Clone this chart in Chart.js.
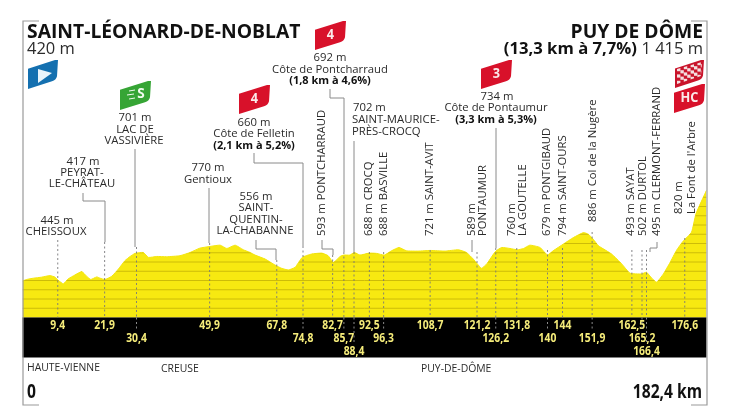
<!DOCTYPE html>
<html>
<head>
<meta charset="utf-8">
<title>Puy de Dôme</title>
<style>
  html, body { margin: 0; padding: 0; background: #fff; }
  #wrap { position: relative; width: 735px; height: 413px; }
  canvas { display: block; }
</style>
<script src="https://cdn.jsdelivr.net/npm/chart.js@4"></script>
</head>
<body>
<div id="wrap"><canvas id="profile" width="735" height="413"></canvas></div>
<script>
const profileKm = [0, 1.1, 2.9, 5.1, 7.3, 8.7, 9.6, 10.9, 12.2, 14, 15.8, 17.1, 18.2, 19.8, 20.7, 22, 23.8, 25.6, 27.3, 28.7, 30, 32.2, 33.6, 35.8, 38.4, 42, 44.7, 47.3, 50, 52.7, 54.5, 56.7, 58.9, 60.7, 62, 64.7, 67.3, 69.1, 70.9, 72.7, 74.6, 77.1, 79.8, 81.5, 82.9, 84.7, 85.7, 87.3, 88.5, 90, 92.4, 94.4, 96.5, 98.4, 100.4, 102.4, 105.5, 108.7, 112.7, 116.2, 118.4, 120.2, 121.3, 122.4, 123.8, 125.6, 126.3, 127.8, 130, 132, 133.6, 135.3, 138, 140, 141.5, 144.2, 146.9, 149.6, 150.9, 152.2, 153.6, 157.1, 159.8, 162, 165.1, 166.4, 167.8, 169.1, 170.9, 172.7, 174.4, 176.1, 178.4, 179.6, 182.4];
const profileElev = [395, 411, 425, 436, 453, 436, 400, 364, 418, 460, 496, 446, 411, 439, 425, 411, 446, 525, 614, 660, 693, 703, 650, 660, 657, 668, 703, 750, 768, 782, 746, 782, 732, 703, 675, 632, 568, 532, 514, 543, 650, 686, 696, 668, 596, 660, 675, 675, 703, 675, 696, 693, 675, 721, 757, 721, 718, 725, 718, 732, 703, 632, 579, 532, 579, 686, 721, 757, 746, 732, 746, 782, 757, 675, 721, 793, 864, 918, 900, 846, 775, 686, 579, 479, 471, 489, 425, 382, 471, 596, 726, 822, 922, 1123, 1375];

const stopKm = [9.4, 21.9, 30.4, 49.9, 67.8, 74.8, 82.7, 85.7, 88.4, 92.5, 96.3, 108.7, 121.2, 126.2, 131.8, 140, 144, 151.9, 162.5, 165.2, 166.4, 176.6];
const stopKmText = ['9,4', '21,9', '30,4', '49,9', '67,8', '74,8', '82,7', '85,7', '88,4', '92,5', '96,3', '108,7', '121,2', '126,2', '131,8', '140', '144', '151,9', '162,5', '165,2', '166,4', '176,6'];

const elevTicks = [0, 100, 200, 300, 400, 500, 600, 700, 800, 900, 1000, 1100, 1200, 1300, 1400];
const regionNames = ['HAUTE-VIENNE', 'CREUSE', 'PUY-DE-DÔME'];
const startName = 'SAINT-LÉONARD-DE-NOBLAT';
const startElev = '420 m';
const finishName = 'PUY DE DÔME';
const finishClimb = '(13,3 km à 7,7%)';
const finishElev = '1 415 m';
const totalKm = 182.4;

// layout of the labels, same order as stopKm
const rowOf = [0, 0, 1, 0, 0, 1, 0, 1, 2, 0, 1, 0, 0, 1, 0, 1, 0, 1, 0, 1, 2, 0];
const dashTop = [240, 242, 247, 243, 260, 246, 255, 252, 252, 252, 252, 250, 252, 248, 248, 250, 248, 232, 250, 250, 250, 238];

const FONT = '"Open Sans", sans-serif';
const GREY = '#8a8a8a';
const INK = '#2b2b2b';

function label(ctx, text, x, y, size, opts) {
  opts = opts || {};
  ctx.save();
  ctx.translate(x, y);
  if (opts.rot) ctx.rotate(-Math.PI / 2);
  if (opts.squeeze) ctx.scale(opts.squeeze, 1);
  ctx.font = (opts.bold ? 'bold ' : '') + size + 'px ' + FONT;
  ctx.fillStyle = opts.color || INK;
  ctx.textAlign = opts.align || 'center';
  ctx.textBaseline = 'middle';
  ctx.fillText(text, 0, 0);
  ctx.restore();
}

function polyline(ctx, pts, color, width) {
  ctx.beginPath();
  pts.forEach((p, i) => i ? ctx.lineTo(p[0], p[1]) : ctx.moveTo(p[0], p[1]));
  ctx.strokeStyle = color;
  ctx.lineWidth = width;
  ctx.stroke();
}

// slanted flag shape used by all the badges
function flag(ctx, x, y, w, h, color) {
  const s = h * 0.3;
  ctx.beginPath();
  ctx.moveTo(x, y + s);
  ctx.lineTo(x + w - 3, y);
  ctx.lineTo(x + w, y);
  ctx.lineTo(x + w - 1, y + h - s - 4);
  ctx.quadraticCurveTo(x + w - 2, y + h - s, x + w - 6, y + h - s + 1);
  ctx.lineTo(x, y + h);
  ctx.closePath();
  ctx.fillStyle = color;
  ctx.fill();
}

function climbBadge(ctx, x, y, text) {
  flag(ctx, x, y, 31, 29, '#d8112a');
  label(ctx, text, x + 15.5, y + 14, 15, { bold: true, color: '#fbeaea', squeeze: 0.85 });
}

const profileArt = {
  id: 'profileArt',
  // stripes across the yellow only
  afterDatasetsDraw(chart) {
    const { ctx, chartArea } = chart;
    const pts = chart.getDatasetMeta(0).data;
    const yScale = chart.scales.y;
    ctx.save();
    ctx.beginPath();
    ctx.moveTo(pts[0].x, chartArea.bottom);
    pts.forEach(p => ctx.lineTo(p.x, p.y));
    ctx.lineTo(pts[pts.length - 1].x, chartArea.bottom);
    ctx.closePath();
    ctx.clip();
    elevTicks.forEach(v => {
      const y = yScale.getPixelForValue(v);
      polyline(ctx, [[chartArea.left, y], [chartArea.right, y]], '#cdbc08', 1);
    });
    ctx.restore();
  },
  afterDraw(chart) {
    const { ctx, chartArea, scales } = chart;
    const x = km => scales.x.getPixelForValue(km);
    const left = chartArea.left, right = chartArea.right, ground = chartArea.bottom;

    // black km band
    ctx.fillStyle = '#000';
    ctx.fillRect(left, ground, right - left, 40);

    // frame
    polyline(ctx, [[39, 21], [23, 21], [23, 405], [39, 405]], '#9a9a9a', 1.2);
    polyline(ctx, [[691, 21], [707, 21], [707, 405], [691, 405]], '#9a9a9a', 1.2);

    // dashed drops and km labels
    stopKm.forEach((km, i) => {
      const px = x(km);
      ctx.save();
      ctx.setLineDash([2, 2.5]);
      polyline(ctx, [[px, dashTop[i]], [px, ground]], '#77777a', 0.9);
      if (rowOf[i] > 0) polyline(ctx, [[px, ground], [px, ground + rowOf[i] * 13 - 1]], '#9a9a9a', 0.9);
      ctx.restore();
      label(ctx, stopKmText[i], px, 326 + rowOf[i] * 12.7, 11.5, { bold: true, color: '#f5ec7a', squeeze: 0.9 });
    });

    // solid leaders
    polyline(ctx, [[83, 193], [83, 201], [105, 201], [105, 242]], GREY, 1);
    polyline(ctx, [[135, 149], [135, 247]], GREY, 1);
    polyline(ctx, [[209, 188], [209, 243]], GREY, 1);
    polyline(ctx, [[256, 240], [256, 249], [276, 249], [276, 260]], GREY, 1);
    polyline(ctx, [[254, 153], [254, 163], [303, 163], [303, 246]], GREY, 1);
    polyline(ctx, [[330, 89], [330, 98], [344, 98], [344, 252]], GREY, 1);
    polyline(ctx, [[354, 141], [354, 252]], GREY, 1);
    polyline(ctx, [[496, 128], [496, 248]], GREY, 1);
    polyline(ctx, [[322, 240], [322, 249], [333, 249], [333, 255]], GREY, 1);
    polyline(ctx, [[472, 240], [472, 252]], GREY, 1);
    polyline(ctx, [[657, 242], [657, 248], [650, 248], [650, 252]], GREY, 1);

    // titles
    label(ctx, startName, 27, 32, 19.7, { bold: true, align: 'left', color: '#111', squeeze: 0.98 });
    label(ctx, startElev, 27, 49, 16.5, { align: 'left' });
    label(ctx, finishName, 703, 32, 19.7, { bold: true, align: 'right', color: '#111', squeeze: 0.98 });
    label(ctx, finishElev, 703, 49, 16.5, { align: 'right' });
    label(ctx, finishClimb, 637, 49, 16.5, { bold: true, align: 'right', color: '#111', squeeze: 1.01 });

    // horizontal place labels
    const S = 11.3;
    label(ctx, '445 m', 57, 221, S);
    label(ctx, 'CHEISSOUX', 56, 232, S);
    label(ctx, '417 m', 83, 162, S);
    label(ctx, 'PEYRAT-', 82, 173, S);
    label(ctx, 'LE-CHÂTEAU', 82, 184, S);
    label(ctx, '701 m', 135, 118, S);
    label(ctx, 'LAC DE', 135, 130, S);
    label(ctx, 'VASSIVIÈRE', 134, 141, S);
    label(ctx, '770 m', 208, 168, S);
    label(ctx, 'Gentioux', 208, 180, S);
    label(ctx, '556 m', 256, 197, S);
    label(ctx, 'SAINT-', 256, 208, S);
    label(ctx, 'QUENTIN-', 256, 220, S);
    label(ctx, 'LA-CHABANNE', 255, 231, S);
    label(ctx, '660 m', 254, 123, S);
    label(ctx, 'Côte de Felletin', 254, 134, S);
    label(ctx, '(2,1 km à 5,2%)', 254, 146, 11, { bold: true, color: '#111' });
    label(ctx, '692 m', 330, 58, S);
    label(ctx, 'Côte de Pontcharraud', 330, 70, S);
    label(ctx, '(1,8 km à 4,6%)', 330, 81, 11, { bold: true, color: '#111' });
    label(ctx, '702 m', 353, 108, S, { align: 'left' });
    label(ctx, 'SAINT-MAURICE-', 352, 120, S, { align: 'left' });
    label(ctx, 'PRÈS-CROCQ', 352, 132, S, { align: 'left' });
    label(ctx, '734 m', 497, 97, S);
    label(ctx, 'Côte de Pontaumur', 496, 108, S);
    label(ctx, '(3,3 km à 5,3%)', 496, 120, 11, { bold: true, color: '#111' });

    // vertical place labels
    const V = { rot: true, align: 'left' };
    label(ctx, '593 m PONTCHARRAUD', 322, 236, S, V);
    label(ctx, '688 m CROCQ', 369, 236, S, V);
    label(ctx, '688 m BASVILLE', 384, 236, S, V);
    label(ctx, '721 m SAINT-AVIT', 430, 236, S, V);
    label(ctx, '589 m', 472, 236, S, V);
    label(ctx, 'PONTAUMUR', 483, 236, S, V);
    label(ctx, '760 m', 512, 236, S, V);
    label(ctx, 'LA GOUTELLE', 523, 236, S, V);
    label(ctx, '679 m PONTGIBAUD', 547, 236, S, V);
    label(ctx, '794 m SAINT-OURS', 563, 236, S, V);
    label(ctx, '886 m Col de la Nugère', 593, 222, S, V);
    label(ctx, '493 m SAYAT', 631, 236, S, V);
    label(ctx, '502 m DURTOL', 643, 236, S, V);
    label(ctx, '495 m CLERMONT-FERRAND', 657, 236, S, V);
    label(ctx, '820 m', 679, 214, S, V);
    label(ctx, "La Font de l'Arbre", 692, 214, S, V);

    // bottom row
    label(ctx, regionNames[0], 27, 368, 10.4, { align: 'left' });
    label(ctx, regionNames[1], 161, 369, 10.4, { align: 'left' });
    label(ctx, regionNames[2], 421, 369, 10.4, { align: 'left' });
    label(ctx, '0', 27, 392, 20, { bold: true, align: 'left', color: '#111', squeeze: 0.78 });
    label(ctx, totalKm.toString().replace('.', ',') + ' km', 702, 392, 20, { bold: true, align: 'right', color: '#111', squeeze: 0.78 });

    // badges
    flag(ctx, 28, 60, 30, 29, '#1470b0');
    ctx.beginPath();
    ctx.moveTo(38, 69); ctx.lineTo(52, 73); ctx.lineTo(38, 83); ctx.closePath();
    ctx.fillStyle = '#e9f4fb';
    ctx.fill();

    flag(ctx, 120, 81, 31, 29, '#36a535');
    label(ctx, 'S', 141, 94, 15, { bold: true, color: '#f1fbef', squeeze: 0.9 });
    polyline(ctx, [[129, 91], [135, 90]], '#f1fbef', 1);
    polyline(ctx, [[127, 95], [134, 94]], '#f1fbef', 1);
    polyline(ctx, [[129, 99], [135, 98]], '#f1fbef', 1);

    climbBadge(ctx, 239, 85, '4');
    climbBadge(ctx, 315, 21, '4');
    climbBadge(ctx, 481, 60, '3');

    // checkered flag and HC
    flag(ctx, 675, 60, 29, 28, '#c9142b');
    ctx.save();
    ctx.beginPath();
    ctx.moveTo(677, 69); ctx.lineTo(702, 62); ctx.lineTo(701, 76); ctx.lineTo(677, 84);
    ctx.closePath();
    ctx.clip();
    ctx.fillStyle = '#f4dfe0';
    for (let r = 0; r < 6; r++) {
      for (let c = 0; c < 8; c++) {
        if ((r + c) % 2) continue;
        ctx.fillRect(677 + c * 3.4, 68 + r * 3.2 - c * 1.0, 3.4, 3.2);
      }
    }
    ctx.restore();
    climbBadge(ctx, 674, 84, 'HC');
  }
};

new Chart(document.getElementById('profile'), {
  type: 'line',
  data: {
    labels: profileKm,
    datasets: [{
      data: profileKm.map((km, i) => ({ x: km, y: profileElev[i] })),
      borderColor: '#f4e60e',
      borderWidth: 1,
      backgroundColor: '#f7e911',
      pointRadius: 0,
      tension: 0.15,
      fill: 'origin'
    }]
  },
  options: {
    responsive: false,
    animation: false,
    layout: { padding: { left: 22.5, right: 735 - 706.5, top: 169.5, bottom: 413 - 317.5 } },
    plugins: { legend: { display: false }, tooltip: { enabled: false } },
    scales: {
      x: { type: 'linear', min: 0, max: totalKm, display: false },
      y: { min: 0, max: 1600, display: false }
    }
  },
  plugins: [profileArt]
});
</script>
</body>
</html>
